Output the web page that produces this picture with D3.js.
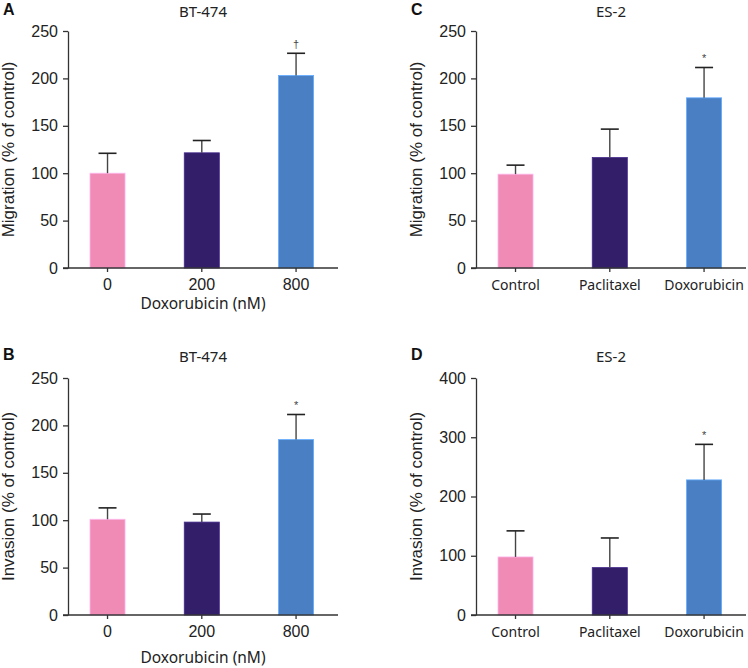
<!DOCTYPE html>
<html>
<head>
<meta charset="utf-8">
<script src="https://cdn.jsdelivr.net/npm/d3@7"></script>
<style>
  html, body { margin: 0; padding: 0; background: #fff; }
  svg { display: block; }
</style>
</head>
<body>
<svg id="chart" width="748" height="668"></svg>
<script>
// ---- data ----
const doseLabels = ["0", "200", "800"];
const drugLabels = ["Control", "Paclitaxel", "Doxorubicin"];
const barColors = ["#f08bb5", "#331e69", "#4a80c3"];

const migrationBT = [100, 121.5, 203];
const migrationBTErr = [21, 13, 23.5];
const migrationBTMarks = ["", "", "†"];

const invasionBT = [101, 98, 185];
const invasionBTErr = [12, 8.5, 26.5];
const invasionBTMarks = ["", "", "*"];

const migrationES = [99, 116.5, 179.5];
const migrationESErr = [9.5, 30, 32];
const migrationESMarks = ["", "", "*"];

const invasionES = [98, 80, 228];
const invasionESErr = [44, 50, 60];
const invasionESMarks = ["", "", "*"];

const ticks250 = [0, 50, 100, 150, 200, 250];
const ticks400 = [0, 100, 200, 300, 400];

const panels = [
  { letter: "A", title: "BT-474", cats: doseLabels, values: migrationBT, errs: migrationBTErr, marks: migrationBTMarks,
    yTicks: ticks250, yLabel: "Migration (% of control)", xLabel: "Doxorubicin (nM)",
    ox: 68, oy: 268, topY: 16.5, letterY: 15, letterX: 3, xLabelY: 309, catFont: "Liberation Sans, Arial, sans-serif", catSize: 16 },
  { letter: "B", title: "BT-474", cats: doseLabels, values: invasionBT, errs: invasionBTErr, marks: invasionBTMarks,
    yTicks: ticks250, yLabel: "Invasion (% of control)", xLabel: "Doxorubicin (nM)",
    ox: 68, oy: 615, topY: 361.5, letterY: 360, letterX: 3, xLabelY: 663, catFont: "Liberation Sans, Arial, sans-serif", catSize: 16 },
  { letter: "C", title: "ES-2", cats: drugLabels, values: migrationES, errs: migrationESErr, marks: migrationESMarks,
    yTicks: ticks250, yLabel: "Migration (% of control)", xLabel: null,
    ox: 476, oy: 268, topY: 16.5, letterY: 15, letterX: 411, catFont: "'Noto Sans', sans-serif", catSize: 14 },
  { letter: "D", title: "ES-2", cats: drugLabels, values: invasionES, errs: invasionESErr, marks: invasionESMarks,
    yTicks: ticks400, yLabel: "Invasion (% of control)", xLabel: null,
    ox: 476, oy: 615, topY: 361.5, letterY: 360, letterX: 411, catFont: "'Noto Sans', sans-serif", catSize: 14 }
];

const W = 270, H = 237;
const svg = d3.select("#chart");
const axisColor = "#333";
const textColor = "#222";

panels.forEach(p => {
  const g = svg.append("g").attr("transform", `translate(${p.ox},${p.oy - H})`);

  const x = d3.scaleBand().domain(p.cats).range([0, W])
    .paddingInner(0.628).paddingOuter(0.246).align(0.474);
  const y = d3.scaleLinear().domain([0, d3.max(p.yTicks)]).range([H, 0]);

  // bars
  g.selectAll("rect.bar").data(p.values).join("rect")
    .attr("class", "bar")
    .attr("x", (d, i) => x(p.cats[i]))
    .attr("width", x.bandwidth())
    .attr("y", d => y(d))
    .attr("height", d => y(0) - y(d))
    .attr("fill", (d, i) => barColors[i])
    .attr("stroke", (d, i) => d3.color(barColors[i]).brighter(0.8))
    .attr("stroke-width", 0.8);

  // error bars (upper only)
  const capHalf = 9;
  p.values.forEach((v, i) => {
    const cx = x(p.cats[i]) + x.bandwidth() / 2;
    g.append("line")
      .attr("x1", cx).attr("x2", cx)
      .attr("y1", y(v)).attr("y2", y(v + p.errs[i]))
      .attr("stroke", "#444").attr("stroke-width", 1.4);
    g.append("line")
      .attr("x1", cx - capHalf).attr("x2", cx + capHalf)
      .attr("y1", y(v + p.errs[i])).attr("y2", y(v + p.errs[i]))
      .attr("stroke", "#222").attr("stroke-width", 1.6);
    if (p.marks[i]) {
      g.append("text")
        .attr("x", cx).attr("y", y(v + p.errs[i]) - 5)
        .attr("text-anchor", "middle")
        .attr("font-family", "Liberation Sans, Arial, sans-serif")
        .attr("font-size", 11)
        .attr("fill", "#444")
        .text(p.marks[i]);
    }
  });

  // y axis
  const yAxis = d3.axisLeft(y).tickValues(p.yTicks).tickSize(5).tickSizeOuter(0).tickPadding(5);
  const ya = g.append("g").call(yAxis);
  ya.select(".domain").attr("stroke", axisColor).attr("stroke-width", 1.3);
  ya.selectAll(".tick line").attr("stroke", axisColor).attr("stroke-width", 1.3);
  ya.selectAll(".tick text")
    .attr("font-family", "Liberation Sans, Arial, sans-serif")
    .attr("font-size", 16).attr("fill", textColor);

  // x axis
  const xAxis = d3.axisBottom(x).tickSize(4).tickSizeOuter(0).tickPadding(p.catSize === 14 ? 8 : 7);
  const xa = g.append("g").attr("transform", `translate(0,${H})`).call(xAxis);
  xa.select(".domain").attr("d", `M-5,0H${W}`).attr("stroke", axisColor).attr("stroke-width", 1.3);
  xa.selectAll(".tick line").attr("stroke", axisColor).attr("stroke-width", 1.3);
  xa.selectAll(".tick text")
    .attr("font-family", p.catFont)
    .attr("font-size", p.catSize).attr("fill", textColor);

  // panel title (absolute)
  svg.append("text")
    .attr("x", p.ox + W / 2).attr("y", p.topY)
    .attr("text-anchor", "middle")
    .attr("font-family", "'Noto Sans', sans-serif")
    .attr("font-size", 15).attr("fill", textColor)
    .text(p.title);

  // panel letter
  svg.append("text")
    .attr("x", p.letterX).attr("y", p.letterY)
    .attr("font-family", "Liberation Sans, Arial, sans-serif")
    .attr("font-weight", "bold")
    .attr("font-size", 16).attr("fill", "#111")
    .text(p.letter);

  // y label
  svg.append("text")
    .attr("transform", `translate(${p.ox - 54.5},${p.oy - H / 2}) rotate(-90)`)
    .attr("text-anchor", "middle")
    .attr("font-family", "Liberation Sans, Arial, sans-serif")
    .attr("font-size", 17).attr("fill", textColor)
    .text(p.yLabel);

  // x label
  if (p.xLabel) {
    svg.append("text")
      .attr("x", p.ox + W / 2).attr("y", p.xLabelY)
      .attr("text-anchor", "middle")
      .attr("font-family", "'Noto Sans', sans-serif")
      .attr("font-size", 15.5).attr("fill", textColor)
      .text(p.xLabel);
  }
});
</script>
</body>
</html>
